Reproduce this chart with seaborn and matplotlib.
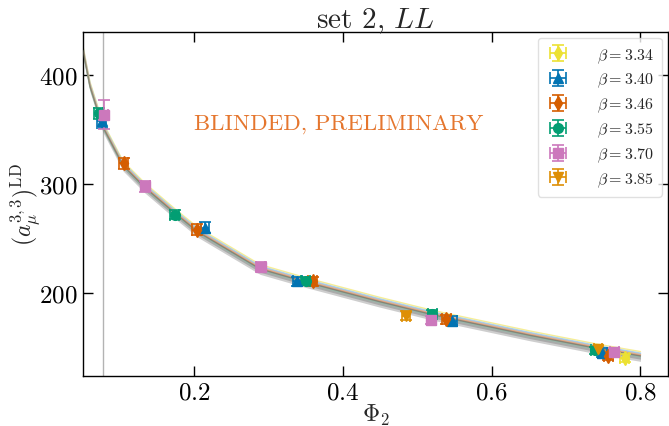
import numpy as np
import pandas as pd
import matplotlib
matplotlib.use('Agg')
import matplotlib.pyplot as plt
import seaborn as sns

# Data
betas = ['3.34', '3.40', '3.46', '3.55', '3.70', '3.85']
colors = ['#ece133', '#0173b2', '#d55e00', '#029e73', '#cc78bc', '#de8f05']
markers = ['d', '^', 'd', 'o', 's', 'v']

phi2 = {
    '3.34': [0.779],
    '3.40': [0.076, 0.215, 0.339, 0.547, 0.749],
    '3.46': [0.1056, 0.204, 0.360, 0.539, 0.757],
    '3.55': [0.0725, 0.174, 0.350, 0.520, 0.739],
    '3.70': [0.079, 0.135, 0.290, 0.519, 0.765],
    '3.85': [0.485, 0.743],
}
amu = {
    '3.34': [140],
    '3.40': [358, 260, 210.5, 174.5, 145],
    '3.46': [319, 258, 210.5, 175.5, 142],
    '3.55': [365, 272, 211, 181, 147],
    '3.70': [364, 298, 224, 175, 146],
    '3.85': [179, 148.5],
}
amu_err = {
    '3.34': [4],
    '3.40': [6, 5, 4, 4, 4],
    '3.46': [5, 5, 4, 4, 4],
    '3.55': [5, 4, 4, 3, 3],
    '3.70': [13, 5, 4, 4, 3],
    '3.85': [4, 3],
}
phi2_err = 0.006

# fit curve (centre of the band)
fit_phi2 = [0.051, 0.0604, 0.0775, 0.105, 0.134, 0.175, 0.2055, 0.289, 0.350, 0.449, 0.520, 0.651, 0.741, 0.800]
fit_amu = [423, 390, 353, 317, 297, 273, 256, 222, 210, 192, 180, 161, 149, 142]

sns.set_theme(style='ticks')
plt.rcParams['font.family'] = ['cmr10', 'DejaVu Serif']
plt.rcParams['mathtext.fontset'] = 'cm'
plt.rcParams['axes.formatter.use_mathtext'] = True

fig = plt.figure(figsize=(6.69, 4.27), dpi=100)
ax = fig.add_axes([0.124, 0.117, 0.8745, 0.806])

fit = pd.DataFrame({'phi2': fit_phi2, 'amu': fit_amu})
y = np.array(fit_amu, dtype=float)
ax.fill_between(fit_phi2, y - 5, y + 3, color='0.45', alpha=0.35, lw=0, zorder=1)
ax.fill_between(fit_phi2, y - 3, y + 1.5, color='0.4', alpha=0.35, lw=0, zorder=1)
ax.plot(fit_phi2, y + 4, color='#f5ec8a', lw=1, alpha=0.9, zorder=2)
ax.plot(fit_phi2, y + 2.5, color='#9cc7e6', lw=1.2, alpha=0.8, zorder=2)
ax.plot(fit_phi2, y + 1, color='#e9a47a', lw=1.2, alpha=0.8, zorder=2)
ax.plot(fit_phi2, y - 1, color='#8fbfa8', lw=1, alpha=0.6, zorder=2)
sns.lineplot(data=fit, x='phi2', y='amu', ax=ax, color='#6b6b5a', lw=1.0, alpha=0.6,
             sort=False, zorder=3)

for b, c, m in zip(betas, colors, markers):
    ax.errorbar(phi2[b], amu[b], yerr=amu_err[b], xerr=phi2_err, fmt=m, color=c,
                ms=7, elinewidth=1.2, capsize=4, capthick=1.2, zorder=4,
                label=r'$\beta = %s$' % b)

ax.axvline(0.078, color='0.7', lw=1, zorder=0)

ax.text(0.395, 356, 'BLINDED, PRELIMINARY', color='#e5762e', fontsize=16.5,
        ha='center', va='center')

ax.set_xlim(0.051, 0.837)
ax.set_ylim(123.5, 440)
ax.set_xticks([0.2, 0.4, 0.6, 0.8])
ax.set_yticks([200, 300, 400])
ax.tick_params(direction='in', top=True, right=True, length=7, width=1,
               labelsize=18, colors='black', pad=4)
ax.set_xlabel(r'$\Phi_2$', fontsize=17, labelpad=-1)
ax.set_ylabel(r'$(a_\mu^{3,3})^{\rm LD}$', fontsize=17, labelpad=-2)
ax.set_title(r'set 2, $LL$', fontsize=21, pad=3)
for s in ax.spines.values():
    s.set_color('black')
    s.set_linewidth(1)

leg = ax.legend(loc='upper right', fontsize=11.5, frameon=True, handlelength=1.6,
                handletextpad=1.6, borderpad=0.5, labelspacing=0.4, borderaxespad=0.4)
leg.get_frame().set_edgecolor('0.85')

fig.savefig('out.png', dpi=100)
